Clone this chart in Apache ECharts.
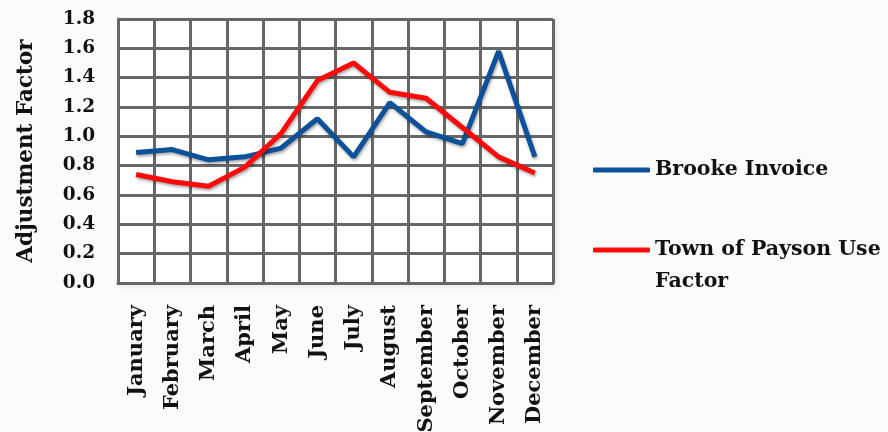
<!DOCTYPE html>
<html>
<head>
<meta charset="utf-8">
<script src="https://cdn.jsdelivr.net/npm/echarts@6/dist/echarts.min.js"></script>
<style>
  html, body { margin: 0; padding: 0; background: #fbfbfb; }
  #chart { width: 888px; height: 432px; }
</style>
</head>
<body>
<div id="chart"></div>
<script>
// Monthly adjustment factors
const months = ['January', 'February', 'March', 'April', 'May', 'June',
  'July', 'August', 'September', 'October', 'November', 'December'];
const brookeInvoice = [0.89, 0.91, 0.84, 0.86, 0.92, 1.12, 0.86, 1.23, 1.03, 0.95, 1.58, 0.86];
const paysonUseFactor = [0.74, 0.69, 0.66, 0.79, 1.02, 1.38, 1.50, 1.30, 1.26, 1.06, 0.86, 0.75];
const yMin = 0, yMax = 1.8, yStep = 0.2;

const FONT = 'DejaVu Serif';
const BLUE = '#0c5199';
const RED = '#ff0a0a';
const GRID_GRAY = '#676767';

const lineShadow = {
  shadowColor: 'rgba(0,0,0,0.35)',
  shadowBlur: 3,
  shadowOffsetX: 1,
  shadowOffsetY: 2
};

const chart = echarts.init(document.getElementById('chart'), null, { renderer: 'canvas' });
chart.setOption({
  backgroundColor: '#fbfbfb',
  animation: false,
  textStyle: { fontFamily: FONT, fontWeight: 'bold', color: '#111' },
  grid: {
    left: 118, top: 19, width: 435, height: 264,
    outerBoundsMode: 'none',
    containLabel: false,
    show: true,
    backgroundColor: '#ffffff',
    borderWidth: 0,
    shadowColor: 'rgba(0,0,0,0.10)',
    shadowBlur: 6,
    shadowOffsetX: 3,
    shadowOffsetY: 3
  },
  legend: [
    {
      orient: 'vertical',
      left: 593, top: 158,
      padding: 0,
      itemWidth: 57, itemHeight: 5,
      icon: 'roundRect',
      itemGap: 0,
      data: ['Brooke Invoice'],
      textStyle: { fontFamily: FONT, fontWeight: 'bold', fontSize: 20.5, lineHeight: 24, color: '#111' }
    },
    {
      // leading blank line keeps the first text line level with the swatch
      orient: 'vertical',
      left: 593, top: 202,
      padding: 0,
      itemWidth: 57, itemHeight: 5,
      icon: 'roundRect',
      itemGap: 0,
      data: ['Town of Payson Use Factor'],
      formatter: name => '\n' + name,
      textStyle: {
        fontFamily: FONT, fontWeight: 'bold', fontSize: 20.5, lineHeight: 32, color: '#111',
        width: 240, overflow: 'break'
      }
    }
  ],
  xAxis: {
    type: 'category',
    data: months,
    boundaryGap: true,
    axisLine: { show: true, lineStyle: { color: GRID_GRAY, width: 3 } },
    axisTick: { show: false },
    splitLine: { show: true, lineStyle: { color: GRID_GRAY, width: 3 } },
    axisLabel: {
      rotate: 90,
      margin: 22,
      interval: 0,
      fontFamily: FONT, fontWeight: 'bold', fontSize: 21, color: '#111'
    }
  },
  yAxis: {
    type: 'value',
    min: yMin, max: yMax, interval: yStep,
    name: 'Adjustment Factor',
    nameLocation: 'middle',
    nameGap: 81,
    nameRotate: 90,
    nameTextStyle: { fontFamily: FONT, fontWeight: 'bold', fontSize: 21.5, color: '#111' },
    axisLine: { show: true, lineStyle: { color: GRID_GRAY, width: 3 } },
    axisTick: { show: false },
    splitLine: { show: true, lineStyle: { color: GRID_GRAY, width: 3 } },
    axisLabel: {
      margin: 23,
      fontFamily: FONT, fontWeight: 'bold', fontSize: 18.5, color: '#111',
      formatter: v => v.toFixed(1)
    }
  },
  series: [
    {
      name: 'Brooke Invoice',
      type: 'line',
      data: brookeInvoice,
      showSymbol: false,
      symbol: 'none',
      color: BLUE,
      lineStyle: Object.assign({ color: BLUE, width: 5 }, lineShadow),
      z: 3
    },
    {
      name: 'Town of Payson Use Factor',
      type: 'line',
      data: paysonUseFactor,
      showSymbol: false,
      symbol: 'none',
      color: RED,
      lineStyle: Object.assign({ color: RED, width: 5 }, lineShadow),
      z: 4
    }
  ]
});
</script>
</body>
</html>
